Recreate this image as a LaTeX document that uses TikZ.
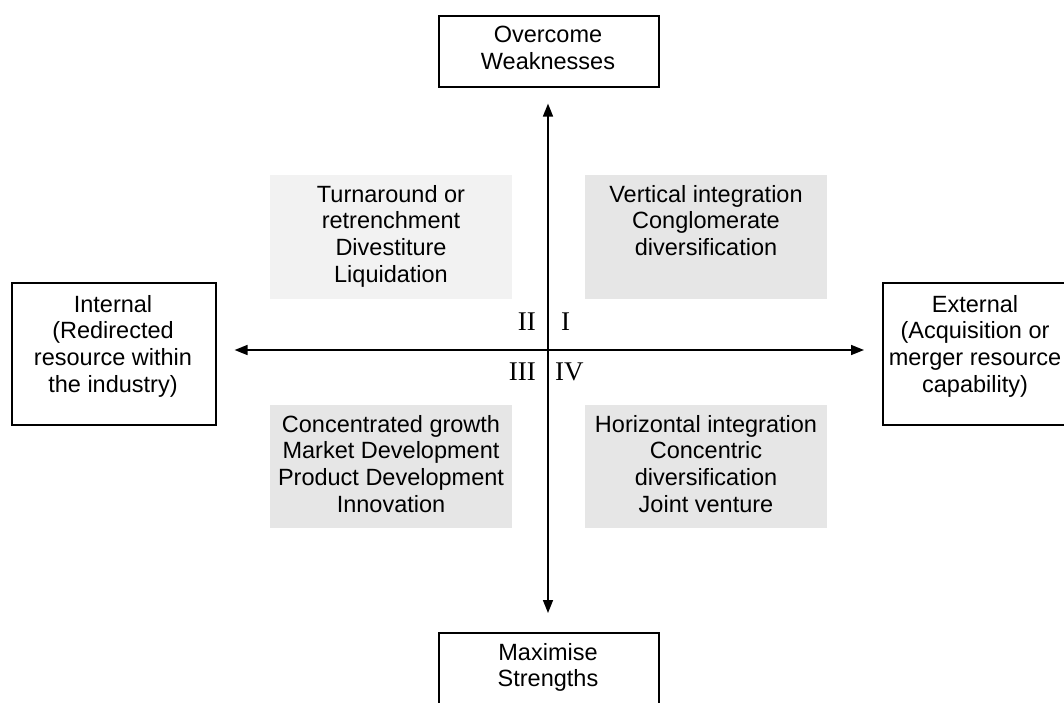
\documentclass[tikz,border=0pt]{standalone}
\usepackage{fontspec}
\setmainfont{Liberation Sans}
\newfontfamily\numfont{Liberation Serif}
\usetikzlibrary{arrows.meta}
\definecolor{paleA}{HTML}{F2F2F2}
\definecolor{paleB}{HTML}{E6E6E6}
\begin{document}
\begin{tikzpicture}[x=1pt,y=-1pt,
  outline/.style={draw=black,line width=1.6pt,fill=white,inner sep=0pt,anchor=north west},
  panel/.style={fill=#1,draw=none,inner sep=0pt,anchor=north west,minimum width=242pt},
  boxtext/.style={inner sep=0pt,anchor=north,align=center,font=\fontsize{23.5}{26.7}\selectfont},
  numeral/.style={inner sep=0pt,font=\numfont\fontsize{27}{30}\selectfont},
  axisline/.style={line width=1.6pt,{Triangle[length=13pt,width=10pt]}-{Triangle[length=13pt,width=10pt]}}
]
\useasboundingbox (0,0) rectangle (1064,702);

% quadrant panels
\node[panel=paleA,minimum height=124pt] (q2) at (270,175) {};
\node[panel=paleB,minimum height=124pt] (q1) at (585,175) {};
\node[panel=paleB,minimum height=123pt] (q3) at (270,405) {};
\node[panel=paleB,minimum height=123pt] (q4) at (585,405) {};

\node[boxtext] (t2) at (391,185) {Turnaround or\\retrenchment\\Divestiture\\Liquidation};
\node[boxtext] (t1) at (706,185) {Vertical integration\\Conglomerate\\diversification};
\node[boxtext] (t3) at (391,415) {Concentrated growth\\Market Development\\Product Development\\Innovation};
\node[boxtext] (t4) at (706,415) {Horizontal integration\\Concentric\\diversification\\Joint venture};

% outer boxes
\node[outline,minimum width=220pt,minimum height=71pt] (top) at (438,15) {};
\node[outline,minimum width=220pt,minimum height=90pt] (bottom) at (438,632) {};
\node[outline,minimum width=204pt,minimum height=142pt] (left) at (11,282) {};
\node[outline,minimum width=200pt,minimum height=142pt] (right) at (882,282) {};

\node[boxtext] (toptext) at (548,26) {Overcome\\Weaknesses};
\node[boxtext] (bottomtext) at (548,643) {Maximise\\Strengths};
\node[boxtext] (lefttext) at (113,295) {Internal\\(Redirected\\resource within\\the industry)};
\node[boxtext] (righttext) at (975,295) {External\\(Acquisition or\\merger resource\\capability)};

% axes
\coordinate (o) at (548,350);
\draw[axisline,shorten <=16pt,shorten >=19pt] (o |- top.south) -- (o |- bottom.north);
\draw[axisline,shorten <=18pt,shorten >=18pt] (o -| left.east) -- (o -| right.west);

% quadrant numerals
\node[numeral,anchor=base east] (n2) at (536,330) {II};
\node[numeral,anchor=base west] (n1) at (561,330) {I};
\node[numeral,anchor=base east] (n3) at (536,380) {III};
\node[numeral,anchor=base west] (n4) at (555,380) {IV};
\end{tikzpicture}
\end{document}
